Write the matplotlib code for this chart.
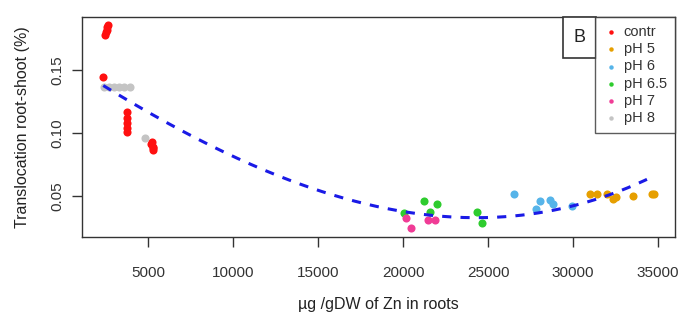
import numpy as np
import matplotlib.pyplot as plt
from matplotlib.patches import Rectangle

plt.rcParams['font.family'] = ['Liberation Sans', 'DejaVu Sans']

groups = ['contr', 'pH 5', 'pH 6', 'pH 6.5', 'pH 7', 'pH 8']
colors = ['#FF1010', '#E69F00', '#56B4E9', '#2ECC2E', '#F03C96', '#C4C4C4']

contr_x = [2350, 2470, 2520, 2560, 2590, 2620, 3740, 3760, 3750, 3760, 3740, 5180, 5230, 5260, 5300, 5280]
contr_y = [0.1444, 0.178, 0.180, 0.182, 0.184, 0.1857, 0.1167, 0.112, 0.108, 0.104, 0.1008, 0.091, 0.093, 0.089, 0.0865, 0.088]
ph5_x = [31000, 31400, 32000, 32350, 32500, 33530, 34650, 34760]
ph5_y = [0.0516, 0.0516, 0.0516, 0.048, 0.049, 0.050, 0.0516, 0.0516]
ph6_x = [26530, 27820, 28060, 28650, 28820, 29940]
ph6_y = [0.052, 0.040, 0.046, 0.047, 0.044, 0.042]
ph65_x = [20060, 21240, 21590, 21990, 24350, 24650]
ph65_y = [0.0365, 0.046, 0.037, 0.044, 0.037, 0.029]
ph7_x = [20180, 20470, 21470, 21880]
ph7_y = [0.0325, 0.0246, 0.031, 0.031]
ph8_x = [2400, 2700, 3000, 3300, 3600, 3900, 4820]
ph8_y = [0.1365, 0.1365, 0.1365, 0.1365, 0.1365, 0.1365, 0.096]

# trend line
fit_x = [2350, 4530, 10410, 16290, 19820, 22500, 25000, 27650, 30000, 34350]
fit_y = [0.138, 0.118, 0.084, 0.0452, 0.0373, 0.033, 0.0335, 0.0373, 0.0437, 0.0620]

xs = [contr_x, ph5_x, ph6_x, ph65_x, ph7_x, ph8_x]
ys = [contr_y, ph5_y, ph6_y, ph65_y, ph7_y, ph8_y]

fig = plt.figure(figsize=(6.88, 3.27), dpi=100)
ax = fig.add_axes([82/688, 1 - 237/327, 593/688, 220/327])

for gx, gy, c, g in zip(xs, ys, colors, groups):
    ax.scatter(gx, gy, s=34, color=c, label=g, zorder=3, linewidths=0)

coef = np.polyfit(fit_x, fit_y, 3)
fx = np.linspace(fit_x[0], fit_x[-1], 200)
ax.plot(fx, np.polyval(coef, fx), color='#1A1AE6', lw=2.2, ls=(0, (3, 3)), zorder=4)

ax.set_xlim(1100, 36000)
ax.set_ylim(0.0175, 0.192)
ax.set_xticks([5000, 10000, 15000, 20000, 25000, 30000, 35000])
ax.set_yticks([0.05, 0.10, 0.15])
ax.set_yticklabels(['0.05', '0.10', '0.15'], rotation=90, va='center')
ax.tick_params(direction='out', length=7, width=1, colors='#333333', labelsize=11, pad=14)
ax.tick_params(axis='y', pad=6)
for s in ax.spines.values():
    s.set_color('#333333')
    s.set_linewidth(1)

ax.set_xlabel('µg /gDW of Zn in roots', fontsize=11.5, color='#222222', labelpad=12)
ax.set_ylabel('Translocation root-shoot (%)', fontsize=11.5, color='#222222', labelpad=14)

leg = ax.legend(loc='upper right', bbox_to_anchor=(1, 1), frameon=True, fancybox=False,
                fontsize=10.5, handletextpad=0.4, borderpad=0.55, labelspacing=0.22,
                markerscale=0.55, borderaxespad=0, handlelength=1.0)
leg.get_frame().set_edgecolor('#333333')
leg.get_frame().set_linewidth(1)
for t in leg.get_texts():
    t.set_color('#333333')

ax.add_patch(Rectangle((0.811, 0.814), 0.056, 0.186, transform=ax.transAxes,
                       fill=True, fc='white', ec='#333333', lw=1.2, clip_on=False, zorder=5))
ax.text(0.839, 0.907, 'B', transform=ax.transAxes, ha='center', va='center',
        fontsize=13, color='#222222', zorder=6)

fig.savefig('out.png', dpi=100)
